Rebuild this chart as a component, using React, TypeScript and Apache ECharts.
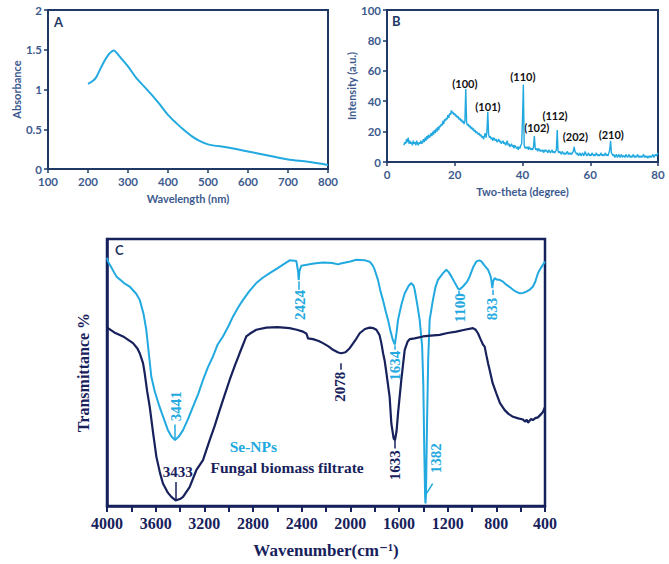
import React, { useEffect, useRef } from "react";
import * as echarts from "echarts";

// ---------- Panel A: UV-Vis ----------
const uvWavelength = [200, 210, 220, 230, 240, 250, 260, 265, 270, 280, 290, 300, 310, 320, 340, 360, 380, 400, 420, 440, 460, 480, 500, 550, 600, 650, 700, 750, 800];
const uvAbsorbance = [1.07, 1.1, 1.15, 1.25, 1.35, 1.43, 1.48, 1.49, 1.47, 1.41, 1.35, 1.29, 1.22, 1.15, 1.04, 0.93, 0.81, 0.68, 0.58, 0.49, 0.41, 0.35, 0.31, 0.27, 0.22, 0.17, 0.12, 0.09, 0.05];

// ---------- Panel B: XRD (sampled every 0.25 degree from 5 to 80) ----------
const xrdStart = 5;
const xrdStep = 0.25;
const xrdIntensity = [
  11, 13, 12, 15, 13, 16, 12, 14, 12, 13, 11, 14, 12, 13, 11, 14, 12, 11, 13, 12,
  14, 12, 13, 15, 13, 16, 14, 17, 15, 18, 16, 17, 19, 17, 20, 18, 21, 19, 22, 20,
  23, 21, 24, 23, 25, 24, 27, 25, 28, 27, 29, 28, 31, 29, 32, 31, 34, 32, 33, 31,
  32, 30, 31, 29, 30, 28, 29, 27, 28, 26, 27, 25, 27, 48, 26, 24, 25, 23, 24, 22,
  23, 21, 22, 20, 21, 19, 20, 19, 18, 19, 17, 18, 16, 17, 15, 17, 19, 16, 20, 33,
  18, 16, 17, 15, 16, 14, 16, 15, 14, 15, 13, 14, 15, 13, 14, 12, 13, 14, 12, 13,
  11, 12, 14, 11, 12, 10, 11, 12, 10, 11, 9, 11, 10, 9, 10, 8, 10, 9, 11, 12,
  28, 51, 11, 9, 10, 9, 10, 8, 10, 9, 8, 9, 8, 10, 17, 9, 8, 9, 7, 9,
  8, 7, 8, 7, 8, 6, 8, 7, 8, 7, 6, 8, 7, 6, 7, 8, 6, 7, 6, 7,
  8, 21, 7, 6, 7, 6, 5, 7, 6, 5, 6, 5, 6, 7, 5, 6, 5, 6, 5, 6,
  7, 10, 7, 6, 5, 6, 4, 5, 6, 4, 5, 6, 4, 5, 7, 5, 4, 5, 6, 4,
  5, 4, 6, 5, 4, 5, 4, 6, 5, 4, 5, 4, 5, 6, 4, 5, 4, 5, 6, 4,
  5, 4, 6, 8, 14, 6, 5, 4, 5, 3, 4, 5, 3, 4, 5, 3, 4, 5, 3, 4,
  4, 3, 5, 4, 3, 4, 5, 3, 4, 3, 4, 5, 3, 4, 3, 4, 5, 3, 4, 3,
  4, 3, 4, 5, 3, 4, 3, 4, 2.5, 4, 3, 4, 3, 4, 5, 3, 4, 5, 4, 5,
  6,
];
const hklText = ["(100)", "(101)", "(110)", "(102)", "(112)", "(202)", "(210)"];
const hklTheta = [23.0, 29.8, 40.1, 44.2, 49.6, 55.6, 66.2];
const hklIntensity = [51.7, 36.3, 56, 22.5, 30.4, 16.6, 18];

// ---------- Panel C: FTIR ----------
const seWavenumber = [4000, 3992, 3923, 3860, 3814, 3760, 3731, 3700, 3677, 3636, 3608, 3567, 3500, 3470, 3441, 3410, 3375, 3330, 3293, 3250, 3211, 3170, 3129, 3090, 3047, 3000, 2964, 2920, 2882, 2830, 2773, 2720, 2663, 2600, 2553, 2499, 2444, 2430, 2424, 2418, 2403, 2300, 2225, 2150, 2100, 2080, 2000, 1951, 1880, 1841, 1815, 1800, 1773, 1750, 1732, 1710, 1690, 1670, 1649, 1634, 1620, 1608, 1580, 1553, 1520, 1499, 1480, 1471, 1450, 1430, 1410, 1400, 1392, 1385, 1382, 1378, 1370, 1360, 1348, 1321, 1300, 1280, 1238, 1211, 1190, 1170, 1140, 1115, 1105, 1090, 1074, 1040, 1019, 990, 964, 940, 923, 900, 869, 850, 841, 833, 826, 814, 790, 773, 745, 718, 690, 663, 635, 608, 580, 553, 525, 499, 480, 458, 436, 416, 400];
const seTransmittance = [93, 91.6, 86, 83.5, 82.2, 79.5, 77.2, 72, 66, 48.5, 43, 37, 28.5, 26, 24.7, 26, 28.4, 33, 37.2, 42, 47.2, 52, 56, 60.5, 63.5, 67.5, 71, 74.5, 77.2, 80.5, 83.5, 85.5, 87.2, 89, 90.4, 92, 91.8, 88, 84.7, 88, 90, 90.8, 91.2, 91, 90.5, 90.8, 91.6, 92.2, 92, 91.5, 90, 88.5, 84.7, 80, 77.2, 73, 69.7, 65.5, 62, 60.5, 65, 69.7, 75.5, 79.7, 82.5, 83.5, 82.5, 81, 75.5, 69.7, 60, 45, 20, 3, 1, 5, 30, 55, 69.7, 77.2, 82, 84.7, 87.2, 88.5, 87.5, 86, 83.5, 81.5, 81, 81.6, 82.2, 84, 86, 89.5, 91.6, 92, 91.6, 90.2, 88.5, 86.5, 84.7, 81.6, 84.2, 85.3, 84.7, 84.7, 84, 82.9, 82, 81, 80.2, 79.7, 79.8, 80.3, 81, 82.2, 84, 87.2, 89, 90.4, 91.6];

const fungalWavenumber = [4000, 3992, 3940, 3868, 3786, 3750, 3731, 3704, 3690, 3670, 3649, 3620, 3594, 3565, 3540, 3500, 3471, 3436, 3400, 3375, 3321, 3266, 3211, 3156, 3115, 3074, 3030, 2992, 2950, 2910, 2855, 2827, 2773, 2690, 2600, 2499, 2440, 2389, 2360, 2348, 2307, 2260, 2225, 2180, 2142, 2100, 2074, 2040, 2005, 1960, 1923, 1880, 1841, 1810, 1786, 1760, 1745, 1730, 1718, 1704, 1677, 1663, 1644, 1633, 1620, 1608, 1581, 1553, 1530, 1512, 1471, 1403, 1340, 1266, 1200, 1129, 1060, 992, 970, 951, 930, 910, 896, 882, 868, 855, 830, 800, 770, 731, 700, 663, 620, 581, 565, 550, 540, 527, 515, 500, 480, 458, 430, 416, 405, 400];
const fungalTransmittance = [67, 66.6, 65, 63.5, 61, 59, 57.2, 53.5, 49.7, 43, 37.2, 27, 18.4, 12.5, 8.4, 5, 3.4, 2.1, 2.6, 3.4, 7.1, 13.4, 17.2, 24.7, 30, 35.9, 42, 47.2, 52.5, 57.2, 63.5, 64.5, 66, 66.8, 67, 66.6, 66, 65.3, 64.5, 62.8, 62.5, 61.8, 61, 59.8, 58.5, 57.5, 57.2, 57.6, 59.1, 62, 64.7, 66.3, 66.8, 66.6, 66, 64, 61, 57, 54.5, 50, 40.9, 30.9, 25.3, 24.7, 28, 34.7, 47.2, 58.5, 61.5, 62.5, 62.8, 63.5, 63.8, 64.1, 64.8, 65.3, 66, 66.6, 66, 64.7, 62.5, 60.5, 59.7, 56.5, 53.5, 50.9, 46, 42.2, 38.5, 35.9, 34.5, 33.4, 32.8, 32.4, 31.6, 32.3, 31.2, 31.9, 32.6, 32.2, 32.9, 33.2, 34.5, 35.3, 36.5, 37];

// peak annotations (text, position in data units, which curve)
const irLabelText = ["2424", "1100", "833", "1634", "3441", "2078", "1633", "1382"];
const irLabelWn = [2416, 1101, 832, 1635, 3434, 2082, 1633, 1293];
const irLabelT = [75.3, 74.2, 73.8, 52.5, 37.4, 44.7, 15.3, 17.9];
const irLabelCurve = ["se", "se", "se", "se", "se", "fungal", "fungal", "se"];
const leaderStartWn = [2424, 1105, 833, 1634, 3441, 2078, 1633, 1375, 3433];
const leaderStartT = [84.2, 80.5, 81, 60.2, 25.5, 53.5, 25, 4.6, 2.3];
const leaderEndWn = [2424, 1105, 833, 1634, 3441, 2078, 1633, 1323, 3433];
const leaderEndT = [81, 79, 79, 58.5, 30.5, 51, 21.5, 8.4, 9];
const leaderCurve = ["se", "se", "se", "se", "se", "fungal", "fungal", "se", "fungal"];
const peak3433 = { text: "3433", wn: 3419, t: 12.7 };
const seriesNames = ["Se-NPs", "Fungal biomass filtrate"];
const seriesNameWn = [2992, 3150];
const seriesNameT = [22.2, 14.3];

const LB = "#22a9e0";
const NAVY = "#17215c";
const FRAME = "#1f3864";
const TICKTXT = "#3d5a8e";
const SANS = "Lato, 'Noto Sans', sans-serif";
const SERIF = "'Liberation Serif', 'DejaVu Serif', serif";

export default function App() {
  const ref = useRef<HTMLDivElement>(null);
  useEffect(() => {
    if (!ref.current) return;
    const chart = echarts.init(ref.current, null, { renderer: "svg" });

    const sansAxis = (gridIndex: number, min: number, max: number, interval: number, name: string, isX: boolean, gap: number) => ({
      gridIndex,
      type: "value",
      min,
      max,
      interval,
      name,
      nameLocation: "middle",
      nameGap: gap,
      nameRotate: isX ? 0 : 90,
      nameTextStyle: { color: TICKTXT, fontFamily: SANS, fontSize: 11, fontWeight: "bold" },
      axisLine: { show: true, onZero: false, lineStyle: { color: FRAME, width: 2 } },
      axisTick: { show: true, inside: false, length: 4, lineStyle: { color: FRAME, width: 1.5 } },
      axisLabel: { color: TICKTXT, fontFamily: SANS, fontSize: 11.5, fontWeight: "bold", margin: 6 },
      splitLine: { show: false },
    });

    const colorOf = (c: string) => (c === "se" ? LB : NAVY);

    const option: any = {
      animation: false,
      backgroundColor: "#ffffff",
      grid: [
        { left: 48, top: 10, width: 280, height: 159, show: true, borderColor: FRAME, borderWidth: 2, backgroundColor: "transparent" },
        { left: 387, top: 10, width: 271, height: 152, show: true, borderColor: FRAME, borderWidth: 2, backgroundColor: "transparent" },
        { left: 107, top: 239, width: 438, height: 267, show: true, borderColor: NAVY, borderWidth: 2.5, backgroundColor: "transparent" },
      ],
      xAxis: [
        sansAxis(0, 100, 800, 100, "Wavelength (nm)", true, 24),
        sansAxis(1, 0, 80, 20, "Two-theta (degree)", true, 24),
        {
          gridIndex: 2,
          type: "value",
          min: 400,
          max: 4000,
          interval: 200,
          inverse: true,
          name: "Wavenumber(cm\u207B\u00B9)",
          nameLocation: "middle",
          nameGap: 36,
          nameTextStyle: { color: NAVY, fontFamily: SERIF, fontSize: 17, fontWeight: "bold" },
          axisLine: { show: true, onZero: false, lineStyle: { color: NAVY, width: 2.5 } },
          axisTick: { show: true, inside: false, length: 6, lineStyle: { color: NAVY, width: 2 } },
          axisLabel: {
            color: NAVY,
            fontFamily: SERIF,
            fontSize: 16,
            fontWeight: "bold",
            margin: 9,
            formatter: (v: number) => (v % 400 === 0 ? String(v) : ""),
          },
          splitLine: { show: false },
        },
      ],
      yAxis: [
        sansAxis(0, 0, 2, 0.5, "Absorbance", false, 25),
        sansAxis(1, 0, 100, 20, "Intensity (a.u.)", false, 30),
        {
          gridIndex: 2,
          type: "value",
          min: 0,
          max: 100,
          name: "Transmittance %",
          nameLocation: "middle",
          nameRotate: 90,
          nameGap: 16,
          nameTextStyle: { color: NAVY, fontFamily: SERIF, fontSize: 16, fontWeight: "bold" },
          axisLine: { show: true, onZero: false, lineStyle: { color: NAVY, width: 2.5 } },
          axisTick: { show: false },
          axisLabel: { show: false },
          splitLine: { show: false },
        },
      ],
      series: [
        {
          type: "line",
          xAxisIndex: 0,
          yAxisIndex: 0,
          data: uvWavelength.map((w, i) => [w, uvAbsorbance[i]]),
          smooth: 0.3,
          showSymbol: false,
          lineStyle: { color: LB, width: 2 },
        },
        {
          type: "line",
          xAxisIndex: 1,
          yAxisIndex: 1,
          data: xrdIntensity.map((v, i) => [xrdStart + i * xrdStep, v]),
          showSymbol: false,
          lineStyle: { color: LB, width: 1.4 },
        },
        {
          type: "scatter",
          xAxisIndex: 1,
          yAxisIndex: 1,
          symbolSize: 0,
          itemStyle: { opacity: 1 },
          emphasis: { disabled: true },
          data: hklText.map((t, i) => ({ name: t, value: [hklTheta[i], hklIntensity[i]] })),
          label: {
            show: true,
            position: "inside",
            formatter: "{b}",
            color: "#111111",
            textBorderWidth: 0,
            fontFamily: SANS,
            fontSize: 11,
            fontWeight: "bold",
          },
        },
        {
          type: "line",
          xAxisIndex: 2,
          yAxisIndex: 2,
          data: seWavenumber.map((w, i) => [w, seTransmittance[i]]),
          showSymbol: false,
          lineStyle: { color: LB, width: 2 },
        },
        {
          type: "line",
          xAxisIndex: 2,
          yAxisIndex: 2,
          data: fungalWavenumber.map((w, i) => [w, fungalTransmittance[i]]),
          showSymbol: false,
          lineStyle: { color: NAVY, width: 2.2 },
        },
        {
          type: "lines",
          coordinateSystem: "cartesian2d",
          xAxisIndex: 2,
          yAxisIndex: 2,
          symbol: "none",
          data: leaderStartWn.map((w, i) => ({
            coords: [
              [w, leaderStartT[i]],
              [leaderEndWn[i], leaderEndT[i]],
            ],
            lineStyle: { color: colorOf(leaderCurve[i]), width: 1.5, opacity: 1 },
          })),
        },
        {
          type: "scatter",
          xAxisIndex: 2,
          yAxisIndex: 2,
          symbolSize: 0,
          itemStyle: { opacity: 1 },
          emphasis: { disabled: true },
          data: [
            ...irLabelText.map((t, i) => ({
              name: t,
              value: [irLabelWn[i], irLabelT[i]],
              label: { color: colorOf(irLabelCurve[i]), rotate: 90, position: "inside" },
            })),
            { name: peak3433.text, value: [peak3433.wn, peak3433.t], label: { color: NAVY, rotate: 0, position: "inside" } },
            ...seriesNames.map((t, i) => ({
              name: t,
              value: [seriesNameWn[i], seriesNameT[i]],
              label: { color: i === 0 ? LB : NAVY, rotate: 0, position: "right", distance: 0, fontSize: 15.5 },
            })),
          ],
          label: {
            show: true,
            formatter: "{b}",
            textBorderWidth: 0,
            fontFamily: SERIF,
            fontSize: 15,
            fontWeight: "bold",
          },
        },
      ],
      graphic: [
        { type: "text", left: 54, top: 15, style: { text: "A", fill: FRAME, font: `bold 13px ${SANS}` } },
        { type: "text", left: 392, top: 14, style: { text: "B", fill: FRAME, font: `bold 13px ${SANS}` } },
        { type: "text", left: 115, top: 243, style: { text: "C", fill: FRAME, font: `bold 13px ${SANS}` } },
      ],
    };
    chart.setOption(option);
    return () => chart.dispose();
  }, []);

  return (
    <div
      ref={ref}
      style={{ position: "fixed", left: 0, top: 0, width: 669, height: 564, background: "#ffffff" }}
    />
  );
}
